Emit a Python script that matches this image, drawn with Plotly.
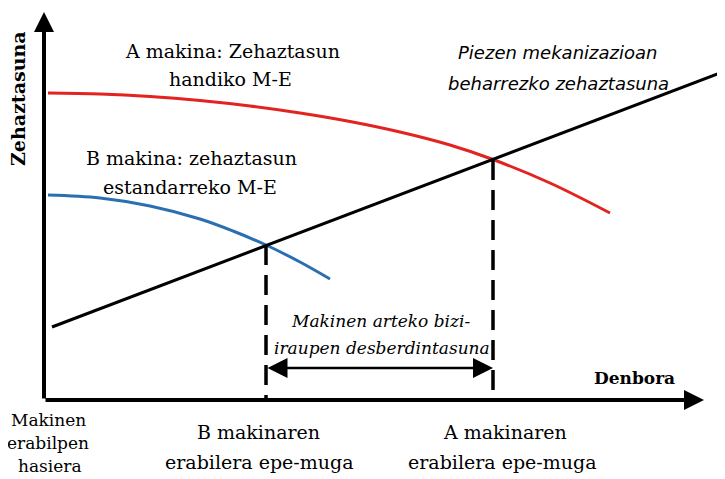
import plotly.graph_objects as go

# Conceptual data (time on x, precision on y)
red_x = [4, 56, 106, 156, 206, 256, 306, 356, 406, 449, 506, 566]
red_y = [307, 306, 303.5, 299.5, 294, 287, 278.5, 268, 255, 240.5, 217, 187]
blue_x = [4, 56, 106, 156, 189, 222, 256, 286]
blue_y = [205, 202, 194, 181, 169, 155, 138, 121]
req_x = [8, 681]
req_y = [73, 329]
limit_B = 222
limit_A = 449
limit_B_y = 155
limit_A_y = 240

fig = go.Figure()
fig.add_trace(go.Scatter(x=red_x, y=red_y, mode="lines", line=dict(color="#e3231f", width=3, shape="spline", smoothing=1.0), hoverinfo="skip"))
fig.add_trace(go.Scatter(x=blue_x, y=blue_y, mode="lines", line=dict(color="#2a6fb2", width=3, shape="spline", smoothing=1.0), hoverinfo="skip"))
fig.add_trace(go.Scatter(x=req_x, y=req_y, mode="lines", line=dict(color="black", width=3), hoverinfo="skip"))
fig.add_trace(go.Scatter(x=[limit_B, limit_B], y=[limit_B_y, 0], mode="lines", line=dict(color="black", width=3.5, dash="20px,10px"), hoverinfo="skip"))
fig.add_trace(go.Scatter(x=[limit_A, limit_A], y=[limit_A_y, 0], mode="lines", line=dict(color="black", width=3.5, dash="20px,10px"), hoverinfo="skip"))

ann = []
# axes arrows
ann.append(dict(x=660, y=0, ax=0, ay=0, xref="x", yref="y", axref="x", ayref="y", showarrow=True, arrowhead=2, arrowsize=1.0, arrowwidth=4, arrowcolor="black", text=""))
ann.append(dict(x=0, y=388, ax=0, ay=0, xref="x", yref="y", axref="x", ayref="y", showarrow=True, arrowhead=2, arrowsize=1.0, arrowwidth=4, arrowcolor="black", text=""))
# double arrow
ann.append(dict(x=449, y=32, ax=limit_B, ay=32, xref="x", yref="y", axref="x", ayref="y", showarrow=True, arrowhead=2, startarrowhead=2, arrowside="end+start", arrowsize=1.6, startarrowsize=1.6, arrowwidth=2.5, arrowcolor="black", text=""))

serif = "DejaVu Serif"
def txt(t, x, y, size=19, italic=False, bold=False, family=serif, angle=0):
    s = t
    if bold:
        s = "<b>" + s + "</b>"
    if italic:
        s = "<i>" + s + "</i>"
    ann.append(dict(x=x, y=y, xref="x", yref="y", text=s, showarrow=False, textangle=angle,
                    font=dict(family=family, size=size, color="black"), xanchor="center", yanchor="middle"))

txt("A makina: Zehaztasun", 188, 349)
txt("handiko M-E", 186, 321)
txt("B makina: zehaztasun", 147, 242)
txt("estandarreko M-E", 146, 213)
txt("Piezen mekanizazioan", 513, 348, size=18, italic=True, family="DejaVu Sans")
txt("beharrezko zehaztasuna", 514, 317, size=18, italic=True, family="DejaVu Sans")
txt("Makinen arteko bizi-", 336, 79, size=17, italic=True)
txt("iraupen desberdintasuna", 338, 52, size=17, italic=True)
txt("Denbora", 590, 22, size=17, bold=True)
txt("Zehaztasuna", -26, 301, size=19, bold=True, angle=-90)
txt("Makinen", 4, -20, size=17)
txt("erabilpen", 4, -43, size=17)
txt("hasiera", 6, -66, size=17)
txt("B makinaren", 214, -32)
txt("erabilera epe-muga", 215, -62)
txt("A makinaren", 461, -32)
txt("erabilera epe-muga", 458, -62)

# page body has an 8px margin: shift ranges so the drawing lands where the reference has it
fig.update_layout(
    width=725, height=479,
    margin=dict(l=0, r=0, t=0, b=0),
    paper_bgcolor="white", plot_bgcolor="white",
    showlegend=False,
    xaxis=dict(range=[-36, 689], visible=False, fixedrange=True),
    yaxis=dict(range=[-87, 392], visible=False, fixedrange=True),
    annotations=ann,
)
fig.write_html("out.html")
